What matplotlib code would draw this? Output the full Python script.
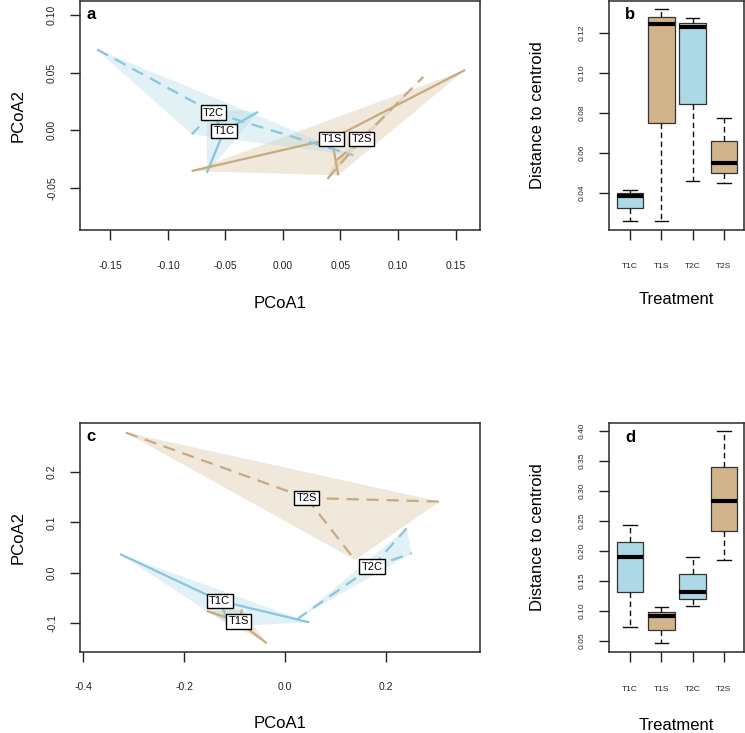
#!/usr/bin/env python3
"""PCoA dispersion plots (hulls + spiders) with distance-to-centroid boxplots."""

import numpy as np
import matplotlib
matplotlib.use('Agg')
import matplotlib.pyplot as plt
from matplotlib.ticker import FormatStrFormatter

plt.rcParams['font.family'] = ['Liberation Sans', 'DejaVu Sans']
plt.rcParams['axes.unicode_minus'] = False

GROUPS = ['T1C', 'T1S', 'T2C', 'T2S']

# Panel a: site scores per group (PCoA1, PCoA2)
a_pcoa1 = {
    'T1C': [-0.0215, -0.0663, -0.0661],
    'T1S': [-0.0794, 0.1583, 0.0481],
    'T2C': [-0.1635, 0.0611, -0.0793],
    'T2S': [0.1220, 0.0383, 0.0450],
}
a_pcoa2 = {
    'T1C': [0.0159, -0.0370, 0.0191],
    'T1S': [-0.0354, 0.0522, -0.0391],
    'T2C': [0.0710, -0.0217, -0.0035],
    'T2S': [0.0463, -0.0426, -0.0272],
}

# Panel c: site scores per group
c_pcoa1 = {
    'T1C': [-0.3274, 0.0482, -0.1091],
    'T1S': [-0.1554, -0.0853, -0.0363],
    'T2C': [0.2415, 0.2514, 0.0264],
    'T2S': [-0.3175, 0.3075, 0.1389],
}
c_pcoa2 = {
    'T1C': [0.0371, -0.0984, -0.1063],
    'T1S': [-0.0760, -0.0734, -0.1401],
    'T2C': [0.0881, 0.0385, -0.0905],
    'T2S': [0.2786, 0.1411, 0.0252],
}

# Panel b: distance to centroid box stats (T1C, T1S, T2C, T2S)
b_whislo = [0.0259, 0.0259, 0.0459, 0.0450]
b_q1 = [0.0322, 0.0750, 0.0842, 0.0499]
b_med = [0.0385, 0.1243, 0.1227, 0.0547]
b_q3 = [0.0400, 0.1280, 0.1250, 0.0660]
b_whishi = [0.0414, 0.1317, 0.1275, 0.0775]

# Panel d
d_whislo = [0.0733, 0.0457, 0.1083, 0.1845]
d_q1 = [0.1307, 0.0678, 0.1195, 0.2333]
d_med = [0.1900, 0.0912, 0.1317, 0.2828]
d_q3 = [0.2150, 0.0983, 0.1607, 0.3400]
d_whishi = [0.2428, 0.1057, 0.1900, 0.3995]

FILL = {'C': '#ADD8E6', 'S': '#D2B48C'}
LINE = {'C': '#88C6DE', 'S': '#C8AA80'}
DASH = (0, (5.5, 3.5))

W, H = 745, 733


def px_axes(fig, left, top, right, bottom):
    return fig.add_axes([left / W, 1 - bottom / H, (right - left) / W, (bottom - top) / H])


def convex_hull(pts):
    pts = sorted(set(pts))
    if len(pts) < 3:
        return pts

    def cross(o, a, b):
        return (a[0] - o[0]) * (b[1] - o[1]) - (a[1] - o[1]) * (b[0] - o[0])

    lower, upper = [], []
    for p in pts:
        while len(lower) >= 2 and cross(lower[-2], lower[-1], p) <= 0:
            lower.pop()
        lower.append(p)
    for p in reversed(pts):
        while len(upper) >= 2 and cross(upper[-2], upper[-1], p) <= 0:
            upper.pop()
        upper.append(p)
    return lower[:-1] + upper[:-1]


def style_axes(ax, xfmt, yfmt, tick_fs, xpad, ypad):
    for s in ax.spines.values():
        s.set_linewidth(1.1)
        s.set_color('#2a2a2a')
    ax.tick_params(direction='out', length=7, width=1.0, color='#222222',
                   labelsize=tick_fs, labelcolor='#222222')
    ax.tick_params(axis='x', pad=xpad)
    ax.tick_params(axis='y', pad=ypad, labelrotation=90)
    for lab in ax.get_yticklabels():
        lab.set_va('center')
    if xfmt:
        ax.xaxis.set_major_formatter(FormatStrFormatter(xfmt))
    ax.yaxis.set_major_formatter(FormatStrFormatter(yfmt))


def pcoa_panel(ax, xs, ys, letter):
    # hulls
    for g in GROUPS:
        hull = convex_hull(list(zip(xs[g], ys[g])))
        hx, hy = zip(*hull)
        ax.fill(hx, hy, color=FILL[g[-1]], alpha=0.35 if g[-1] == 'C' else 0.3,
                lw=0, zorder=1)
    # spiders from group centroid to each site
    cents = {}
    for g in GROUPS:
        cx, cy = np.mean(xs[g]), np.mean(ys[g])
        cents[g] = (cx, cy)
        ls = '-' if g.startswith('T1') else DASH
        for x, y in zip(xs[g], ys[g]):
            ax.plot([cx, x], [cy, y], color=LINE[g[-1]], lw=1.6, linestyle=ls,
                    solid_capstyle='butt', zorder=2)
    for g in GROUPS:
        cx, cy = cents[g]
        ax.text(cx, cy, g, ha='center', va='center', fontsize=8, zorder=5,
                bbox=dict(boxstyle='square,pad=0.2', fc='white', ec='black', lw=1.0))
    ax.text(0.028, 0.94, letter, transform=ax.transAxes, fontsize=12,
            fontweight='bold', ha='center', va='center')


def box_panel(ax, lo, q1, med, q3, hi, letter):
    stats = []
    for i, g in enumerate(GROUPS):
        stats.append(dict(label=g, whislo=lo[i], q1=q1[i], med=med[i],
                          q3=q3[i], whishi=hi[i], fliers=[]))
    bp = ax.bxp(stats, positions=[1, 2, 3, 4], widths=0.85, capwidths=0.42,
                patch_artist=True, showfliers=False,
                boxprops=dict(lw=0.9, edgecolor='#333333'),
                medianprops=dict(color='black', lw=3, solid_capstyle='butt'),
                whiskerprops=dict(color='#111111', lw=1.0, linestyle=(0, (4, 2.5))),
                capprops=dict(color='#111111', lw=1.0))
    for patch, g in zip(bp['boxes'], GROUPS):
        patch.set_facecolor(FILL[g[-1]])
    ax.set_xlim(0.33, 4.64)
    ax.text(1.0, 0.94, letter, transform=ax.get_xaxis_transform(),
            fontsize=12, fontweight='bold', ha='center', va='center')


fig = plt.figure(figsize=(W / 100, H / 100), dpi=100)

# panel a
ax_a = px_axes(fig, 80, 1, 480, 230)
pcoa_panel(ax_a, a_pcoa1, a_pcoa2, 'a')
ax_a.set_xlim(-0.1765, 0.1713)
ax_a.set_ylim(-0.0865, 0.112)
ax_a.set_xticks(np.arange(-0.15, 0.151, 0.05))
ax_a.set_yticks([-0.05, 0.0, 0.05, 0.10])
style_axes(ax_a, '%.2f', '%.2f', 7.5, 15, 9.5)

# panel b
ax_b = px_axes(fig, 609, 1, 744, 230)
box_panel(ax_b, b_whislo, b_q1, b_med, b_q3, b_whishi, 'b')
ax_b.set_ylim(0.0213, 0.1358)
ax_b.set_yticks([0.04, 0.06, 0.08, 0.10, 0.12])
style_axes(ax_b, None, '%.2f', 6, 17, 10)

# panel c
ax_c = px_axes(fig, 80, 422.7, 480, 651.7)
pcoa_panel(ax_c, c_pcoa1, c_pcoa2, 'c')
ax_c.set_xlim(-0.4067, 0.3869)
ax_c.set_ylim(-0.1567, 0.2976)
ax_c.set_xticks([-0.4, -0.2, 0.0, 0.2])
ax_c.set_yticks([-0.1, 0.0, 0.1, 0.2])
style_axes(ax_c, '%.1f', '%.1f', 7.5, 15, 9.5)

# panel d
ax_d = px_axes(fig, 609, 423.3, 744, 652.3)
box_panel(ax_d, d_whislo, d_q1, d_med, d_q3, d_whishi, 'd')
ax_d.set_ylim(0.0307, 0.4123)
ax_d.set_yticks(np.arange(0.05, 0.401, 0.05))
style_axes(ax_d, None, '%.2f', 6, 17, 10)

# axis titles
lab_kw = dict(fontsize=12, ha='center', va='center')
fig.text(18 / W, 1 - 115 / H, 'PCoA2', rotation=90, **lab_kw)
fig.text(280 / W, 1 - 303 / H, 'PCoA1', **lab_kw)
fig.text(538 / W, 1 - 115 / H, 'Distance to centroid', rotation=90, **lab_kw)
fig.text(676 / W, 1 - 300 / H, 'Treatment', **lab_kw)
fig.text(18 / W, 1 - 537 / H, 'PCoA2', rotation=90, **lab_kw)
fig.text(280 / W, 1 - 724 / H, 'PCoA1', **lab_kw)
fig.text(538 / W, 1 - 537 / H, 'Distance to centroid', rotation=90, **lab_kw)
fig.text(676 / W, 1 - 725 / H, 'Treatment', **lab_kw)

fig.savefig('out.png', dpi=100)
